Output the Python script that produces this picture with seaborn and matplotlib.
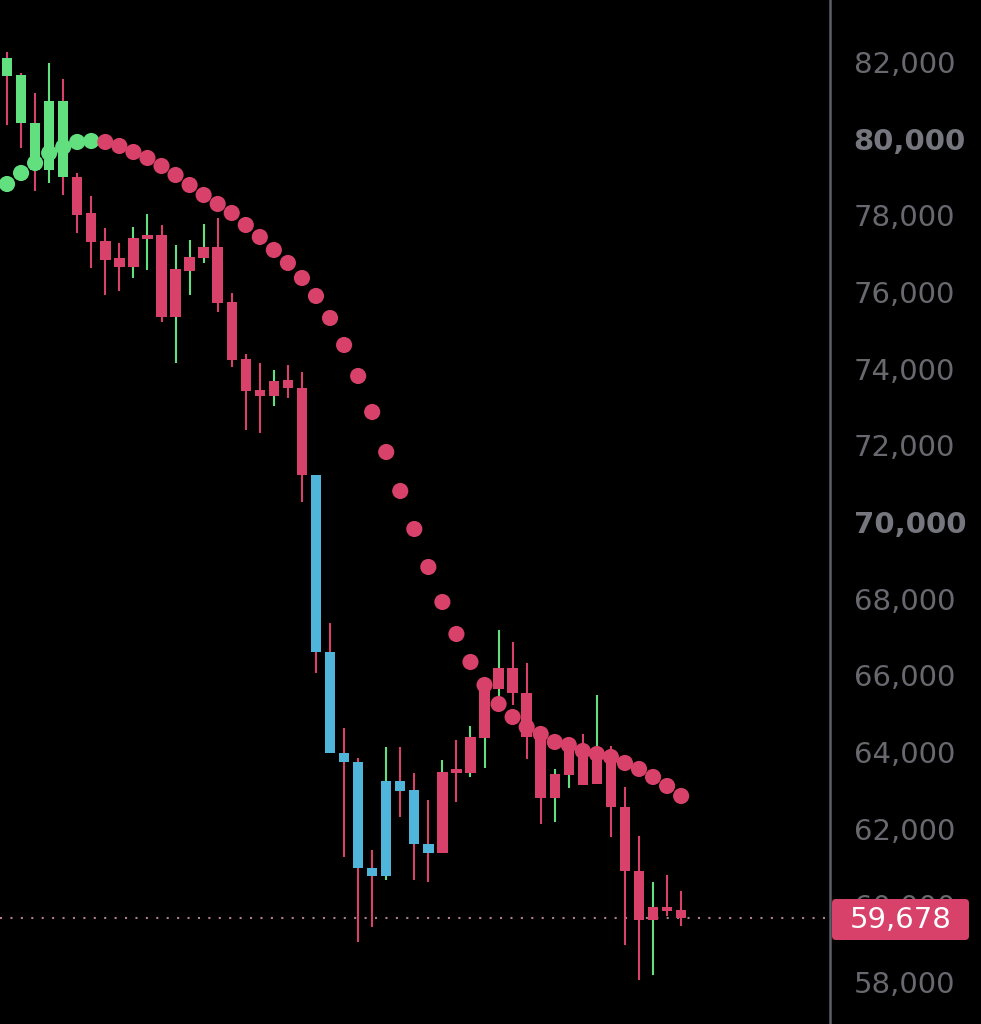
import numpy as np
import pandas as pd
import matplotlib
matplotlib.use("Agg")
import matplotlib.pyplot as plt
from matplotlib.patches import FancyBboxPatch
import seaborn as sns

# Candles (price units)
opens = [81630, 80410, 79180, 79180, 79000, 79000, 78060, 77330, 76890, 77410,
         77490, 77490, 76600, 76910, 77170, 77170, 75740, 74250, 73440, 73680,
         73700, 73500, 71230, 66610, 63970, 63740, 60970, 63240, 63240, 63010,
         61600, 63480, 63530, 64390, 65800, 66190, 66190, 65540, 64570, 63430,
         64260, 64160, 64000, 64000, 62570, 60900, 59960, 59960, 59870]
highs = [82260, 81710, 81190, 81970, 81560, 79100, 78500, 77670, 77280, 77700,
         78030, 77750, 77230, 77360, 77770, 77930, 75970, 74380, 74150, 73970,
         74100, 73910, 71230, 67370, 64630, 63840, 61440, 64130, 64130, 63450,
         62750, 63790, 64310, 64680, 65800, 67180, 66870, 66320, 64650, 63560,
         64260, 64470, 65490, 64160, 63090, 61810, 60610, 60790, 60370]
lows = [80360, 79760, 78630, 78840, 78530, 77540, 76630, 75920, 76030, 76370,
        76570, 75220, 74150, 75920, 76760, 75480, 74040, 72400, 72320, 73030,
        73240, 70520, 66060, 63970, 61260, 59040, 59440, 60660, 62300, 60660,
        60610, 61370, 62700, 63350, 63580, 65280, 65230, 63820, 62120, 62170,
        63060, 63140, 63170, 61780, 58970, 58050, 58180, 59710, 59460]
closes = [82100, 81660, 80410, 80980, 80980, 78010, 77300, 76830, 76650, 76650,
          77380, 75350, 75350, 76550, 76890, 75710, 74230, 73420, 73290, 73290,
          73500, 71230, 66610, 63970, 63740, 60970, 60770, 60770, 62980, 61600,
          61370, 61370, 63450, 63450, 64370, 65640, 65540, 64390, 62800, 62800,
          63400, 63140, 63170, 62570, 60900, 59620, 59620, 59850, 59678]
body_kind = list("gggggrrrrrrrrrrrrrrrrrbbbbbbbbbrrrrrrrrrrrrrrrrrr")
wick_kind = list("rrrgrrrrrggrgggrrrrgrrrrrrrgrrrgrgggrrrggrgrrrgrr")

# Parabolic SAR dots
sar = [78817, 79104, 79365, 79626, 79783, 79913, 79939, 79913, 79809, 79652,
       79496, 79287, 79052, 78791, 78530, 78296, 78061, 77748, 77435, 77096,
       76757, 76365, 75896, 75322, 74617, 73809, 72870, 71826, 70809, 69817,
       68826, 67913, 67078, 66348, 65748, 65252, 64913, 64652, 64470, 64261,
       64183, 64026, 63948, 63870, 63713, 63557, 63348, 63113, 62852]
sar_side = ["bull"] * 7 + ["bear"] * 42

last_price = 59678
price_ticks = [58000, 60000, 62000, 64000, 66000, 68000, 70000, 72000,
               74000, 76000, 78000, 80000, 82000]
offscreen_tick = 84000

GREEN = "#62df7e"
RED = "#d7416a"
BLUE = "#4fb5db"
colors = {"g": GREEN, "r": RED, "b": BLUE}

df = pd.DataFrame({"open": opens, "high": highs, "low": lows, "close": closes,
                   "body": body_kind, "wick": wick_kind, "sar": sar, "side": sar_side})
df["x"] = np.arange(len(df))

sns.set_style("dark", {"axes.facecolor": "black", "figure.facecolor": "black"})
plt.rcParams["font.family"] = ["DejaVu Sans"]

fig = plt.figure(figsize=(9.81, 10.24), dpi=100)
fig.patch.set_facecolor("black")
ax = fig.add_axes([0, 0, 830 / 981, 1])
ax.set_facecolor("black")

# wicks
ax.vlines(df["x"], df["low"], df["high"],
          colors=[colors[k] for k in df["wick"]], linewidth=1.5, zorder=2)

# bodies
body_lo = np.minimum(df["open"], df["close"])
body_hi = np.maximum(df["open"], df["close"])
body_h = np.maximum(body_hi - body_lo, 100)
ax.bar(df["x"], body_h, bottom=body_lo, width=0.74,
       color=[colors[k] for k in df["body"]], linewidth=0, zorder=3)

# SAR dots
sns.scatterplot(data=df, x="x", y="sar", hue="side",
                palette={"bull": GREEN, "bear": RED}, s=135, linewidth=0,
                legend=False, ax=ax, zorder=4)

# last price line
ax.axhline(last_price, color="#b07c90", linestyle=(0, (1, 4)), linewidth=1.5, zorder=1)

ax.set_xlabel("")
ax.set_ylabel("")
ax.set_xticks([])
ax.grid(False)

ax.yaxis.tick_right()
ax.set_yticks(price_ticks)
ax.set_yticklabels([f"{t:,}" for t in price_ticks])
ax.tick_params(axis="y", length=0, pad=17, labelsize=21, labelcolor="#68686f")
for lab, t in zip(ax.get_yticklabels(), price_ticks):
    if t in (70000, 80000):
        lab.set_fontweight("bold")
        lab.set_color("#76767e")

ax.set_xlim(-0.5, 58.6)
ax.set_ylim(56904, 83617)

# tick label just above the visible range (mostly cut off)
ax.text(1.0 + 23 / 830, offscreen_tick, f"{offscreen_tick:,}",
        transform=ax.get_yaxis_transform(), color="#68686f", fontsize=21,
        ha="left", va="center_baseline", clip_on=False)

for side in ["top", "left", "bottom"]:
    ax.spines[side].set_visible(False)
ax.spines["right"].set_visible(True)
ax.spines["right"].set_color("#5d5d68")
ax.spines["right"].set_linewidth(1.8)

# last price tag
tag = FancyBboxPatch((832 / 981, 1 - 940 / 1024), 137 / 981, 41 / 1024,
                     boxstyle="round,pad=0,rounding_size=0.004",
                     transform=fig.transFigure, facecolor=RED, edgecolor="none",
                     zorder=10)
fig.patches.append(tag)
fig.text(901 / 981, 1 - 920 / 1024, f"{last_price:,}", color="white", fontsize=21,
         ha="center", va="center", zorder=11)

fig.savefig("out.png", dpi=100, facecolor="black")
